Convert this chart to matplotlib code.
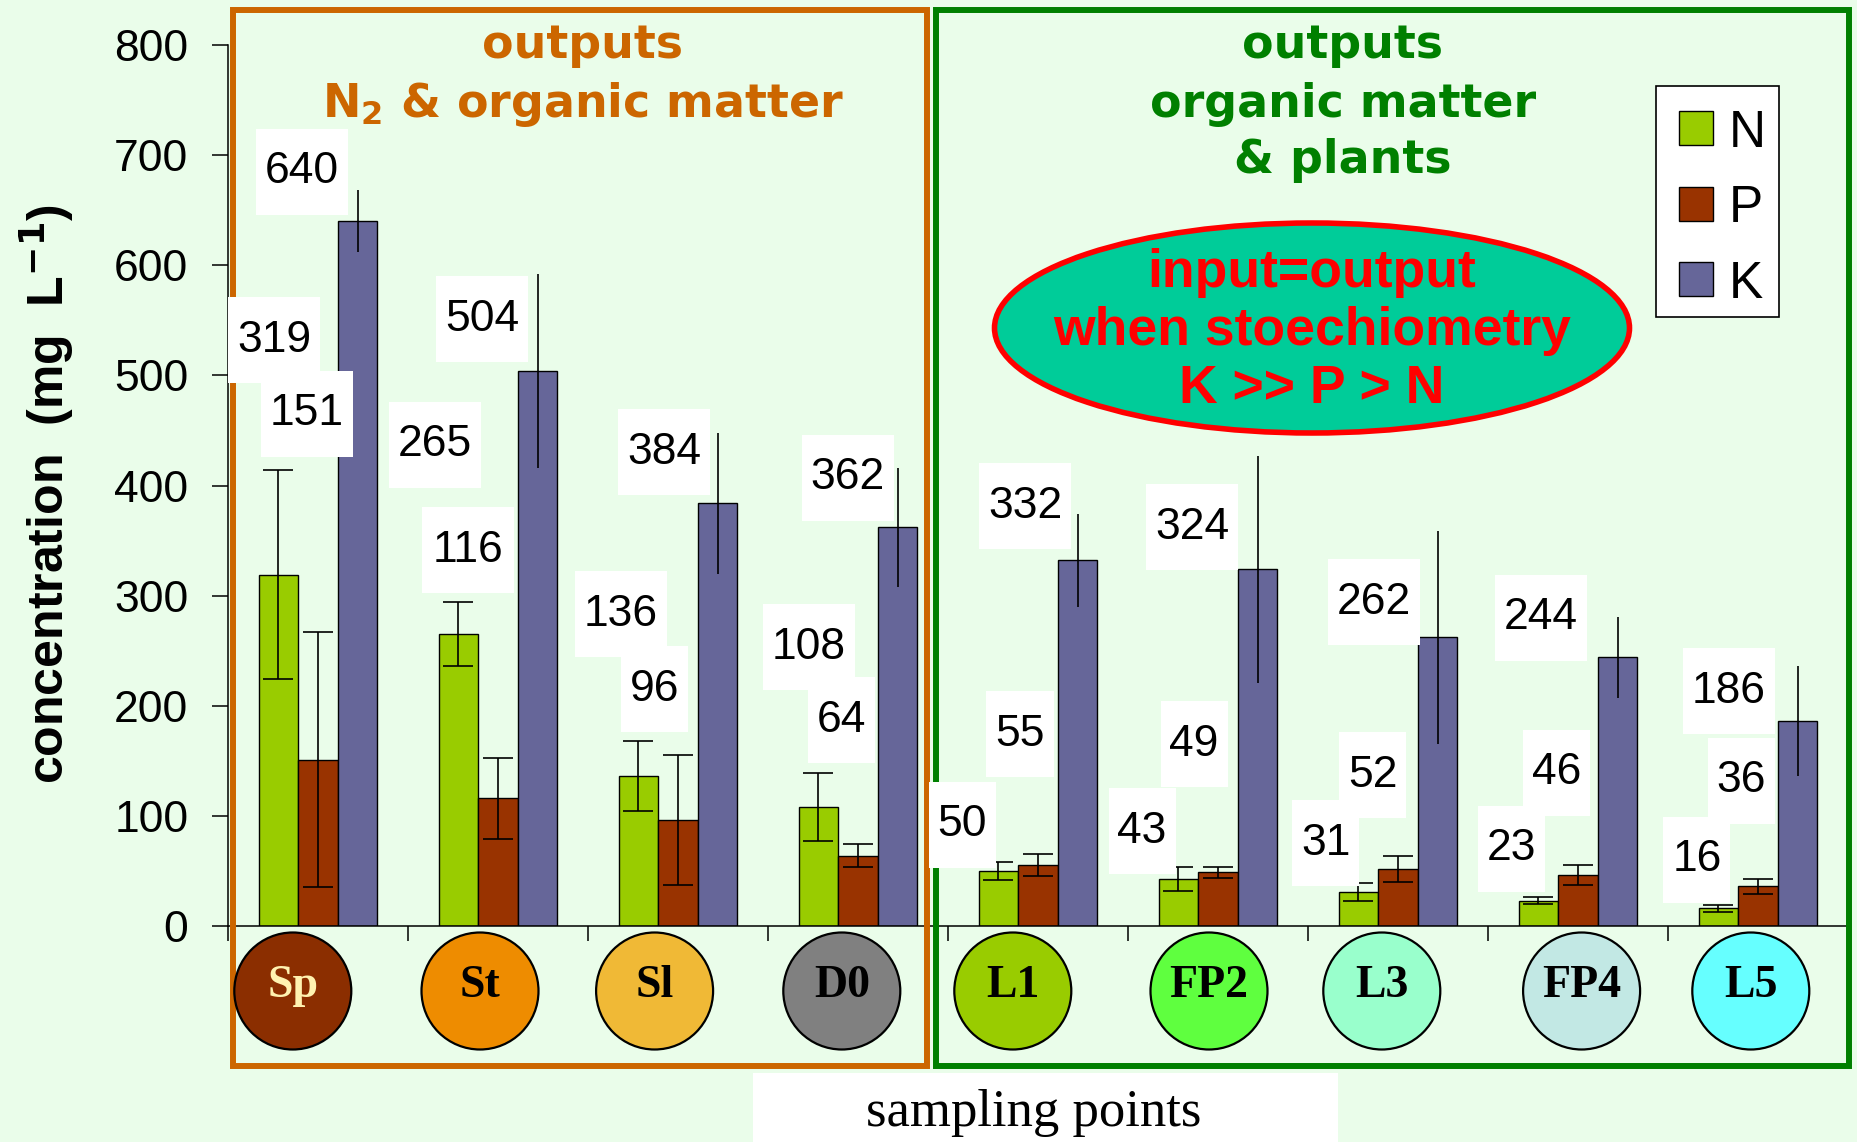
import matplotlib
matplotlib.use("Agg")
import matplotlib.pyplot as plt
import matplotlib.patches as mpatches
import matplotlib.transforms as mtrans
import numpy as np

# sampling points and mean concentrations (mg/L) with error bars
sites = ["Sp", "St", "Sl", "D0", "L1", "FP2", "L3", "FP4", "L5"]
n_val = [319, 265, 136, 108, 50, 43, 31, 23, 16]
n_err = [95, 29, 32, 31, 8, 11, 8, 3, 3.5]
p_val = [151, 116, 96, 64, 55, 49, 52, 46, 36]
p_err = [116, 37, 59, 10.5, 10, 5, 12, 9, 6.5]
k_val = [640, 504, 384, 362, 332, 324, 262, 244, 186]
k_err = [28, 88, 64, 54, 42, 103, 97, 37, 50]

# where the value labels sit (offset from group centre, height in data units)
n_lab_dx = [-0.244, -0.35, -0.317, -0.272, -0.422, -0.422, -0.40, -0.372, -0.339]
n_lab_y = [532, 437, 283, 253, 92, 86, 75, 70, 60]
p_lab_dx = [-0.061, -0.167, -0.128, -0.094, -0.10, -0.133, -0.139, -0.117, -0.094]
p_lab_y = [465, 341, 215, 187, 174, 165, 137, 139, 132]
k_lab_dx = [-0.089, -0.089, -0.078, -0.056, -0.072, -0.144, -0.133, -0.206, -0.161]
k_lab_y = [685, 551, 430, 407, 381, 362, 294, 280, 213]

badge_colors = ["#8B2E00", "#EE8C00", "#F0B936", "#808080", "#99CC00",
                "#5FFF3F", "#99FFCC", "#C2E8E4", "#66FFFF"]
badge_dx = [-0.14, -0.10, -0.13, -0.09, -0.14, -0.05, -0.09, 0.02, -0.04]

c_n, c_p, c_k = "#99CC00", "#993300", "#666699"
bg = "#EAFDEA"
W, H = 1857, 1142

fig = plt.figure(figsize=(W / 100, H / 100), dpi=100, facecolor=bg)
ax = fig.add_axes([228 / W, (H - 926) / H, 1620 / W, (926 - 45) / H])
ax.set_facecolor("none")

# pixel coords measured from top-left of the figure
pix = mtrans.Affine2D().scale(1, -1).translate(0, H)

x = np.arange(len(sites))
w = 0.22
ekw = dict(elinewidth=1.2, capthick=1.2, ecolor="black")
ax.bar(x - w, n_val, w, color=c_n, edgecolor="black", linewidth=1.0,
       yerr=n_err, capsize=10.5, error_kw=ekw, label="N")
ax.bar(x, p_val, w, color=c_p, edgecolor="black", linewidth=1.0,
       yerr=p_err, capsize=10.5, error_kw=ekw, label="P")
ax.bar(x + w, k_val, w, color=c_k, edgecolor="black", linewidth=1.0,
       yerr=k_err, capsize=0, error_kw=ekw, label="K")

ax.set_xlim(-0.5, len(sites) - 0.5)
ax.set_ylim(0, 800)
ax.set_yticks(range(0, 801, 100))
ax.set_xticks(np.arange(-0.5, len(sites), 1.0))
ax.set_xticklabels([])
for s in ["top", "right"]:
    ax.spines[s].set_visible(False)
for s in ["left", "bottom"]:
    ax.spines[s].set_linewidth(1.1)
ax.tick_params(axis="y", length=11.5, width=1.1, pad=17, labelsize=32)
ax.tick_params(axis="x", length=11, width=1.1)
for t in ax.get_yticklabels():
    t.set_family("Liberation Sans")

# frames around the two zones
fig.add_artist(mpatches.Rectangle((233, 10), 694, 1056, transform=pix, fill=False,
                                  edgecolor="#CC6600", linewidth=4.3, zorder=2))
fig.add_artist(mpatches.Rectangle((936, 10), 913, 1056, transform=pix, fill=False,
                                  edgecolor="#008000", linewidth=4.3, zorder=2))

# value labels with white boxes
def value_label(xc, yv, val):
    s = str(val)
    bw = 17 + 25 * len(s)
    tr = mtrans.Affine2D() + mtrans.ScaledTranslation(xc, yv, ax.transData)
    fig.add_artist(mpatches.Rectangle((-bw / 2, -43), bw, 86, transform=tr,
                                      facecolor="white", edgecolor="none", zorder=4))
    fig.text(xc, yv, s, transform=ax.transData, ha="center", va="center",
             fontsize=32, family="Liberation Sans", zorder=5)

for i in range(len(sites)):
    value_label(i + n_lab_dx[i], n_lab_y[i], n_val[i])
    value_label(i + p_lab_dx[i], p_lab_y[i], p_val[i])
    value_label(i + k_lab_dx[i], k_lab_y[i], k_val[i])

# sampling point badges under the axis
btr = mtrans.blended_transform_factory(ax.transData, pix)
for i, name in enumerate(sites):
    fig.add_artist(mpatches.Ellipse((i + badge_dx[i], 991), 0.65, 117, transform=btr,
                                    facecolor=badge_colors[i], edgecolor="black",
                                    linewidth=1.6, zorder=3))
    fig.text(i + badge_dx[i], 986, name, transform=btr, ha="center", va="center",
             fontsize=33, weight="bold", family="Liberation Serif",
             color="#FFF2B0" if name == "Sp" else "black", zorder=4)

# zone titles
tk = dict(transform=pix, ha="center", va="baseline", fontsize=33, weight="bold",
          family="DejaVu Sans", zorder=5)
fig.text(583, 58, "outputs", color="#CC6600", **tk)
fig.text(583, 117, r"N$_\mathbf{2}$ & organic matter", color="#CC6600", **tk)
fig.text(1343, 58, "outputs", color="#008000", **tk)
fig.text(1343, 117, "organic matter", color="#008000", **tk)
fig.text(1343, 173, "& plants", color="#008000", **tk)

# stoechiometry note
fig.add_artist(mpatches.Ellipse((1312, 328), 635, 210, transform=pix, facecolor="#00CC99",
                                edgecolor="#FF0000", linewidth=4, zorder=5))
ek = dict(transform=pix, ha="center", va="baseline", fontsize=38.5, weight="bold",
          family="Liberation Sans", color="#FF0000", zorder=6)
fig.text(1312, 287, "input=output", **ek)
fig.text(1312, 345, "when stoechiometry", **ek)
fig.text(1312, 403, "K >> P > N", **ek)

# legend
fig.add_artist(mpatches.Rectangle((1656, 86), 123, 231, transform=pix, facecolor="white",
                                  edgecolor="black", linewidth=1.2, zorder=5))
for j, (lab, col) in enumerate([("N", c_n), ("P", c_p), ("K", c_k)]):
    top = 111 + j * 75.5
    fig.add_artist(mpatches.Rectangle((1679, top), 34, 34, transform=pix, facecolor=col,
                                      edgecolor="black", linewidth=1.0, zorder=6))
    fig.text(1729, top + 36, lab, transform=pix, ha="left", va="baseline", fontsize=37,
             family="Liberation Sans", zorder=6)

# axis titles
fig.text(47, 494, r"concentration  (mg  L$^{\mathbf{-1}}$)", transform=pix, rotation=90,
         ha="center", va="center", fontsize=36, weight="bold", family="Liberation Sans")
fig.add_artist(mpatches.Rectangle((753, 1073), 585, 80, transform=pix, facecolor="white",
                                  edgecolor="none", zorder=2))
fig.text(1034, 1126, "sampling points", transform=pix, ha="center", va="baseline",
         fontsize=38, family="Liberation Serif", zorder=3)

fig.savefig("out.png", dpi=100, facecolor=bg)
